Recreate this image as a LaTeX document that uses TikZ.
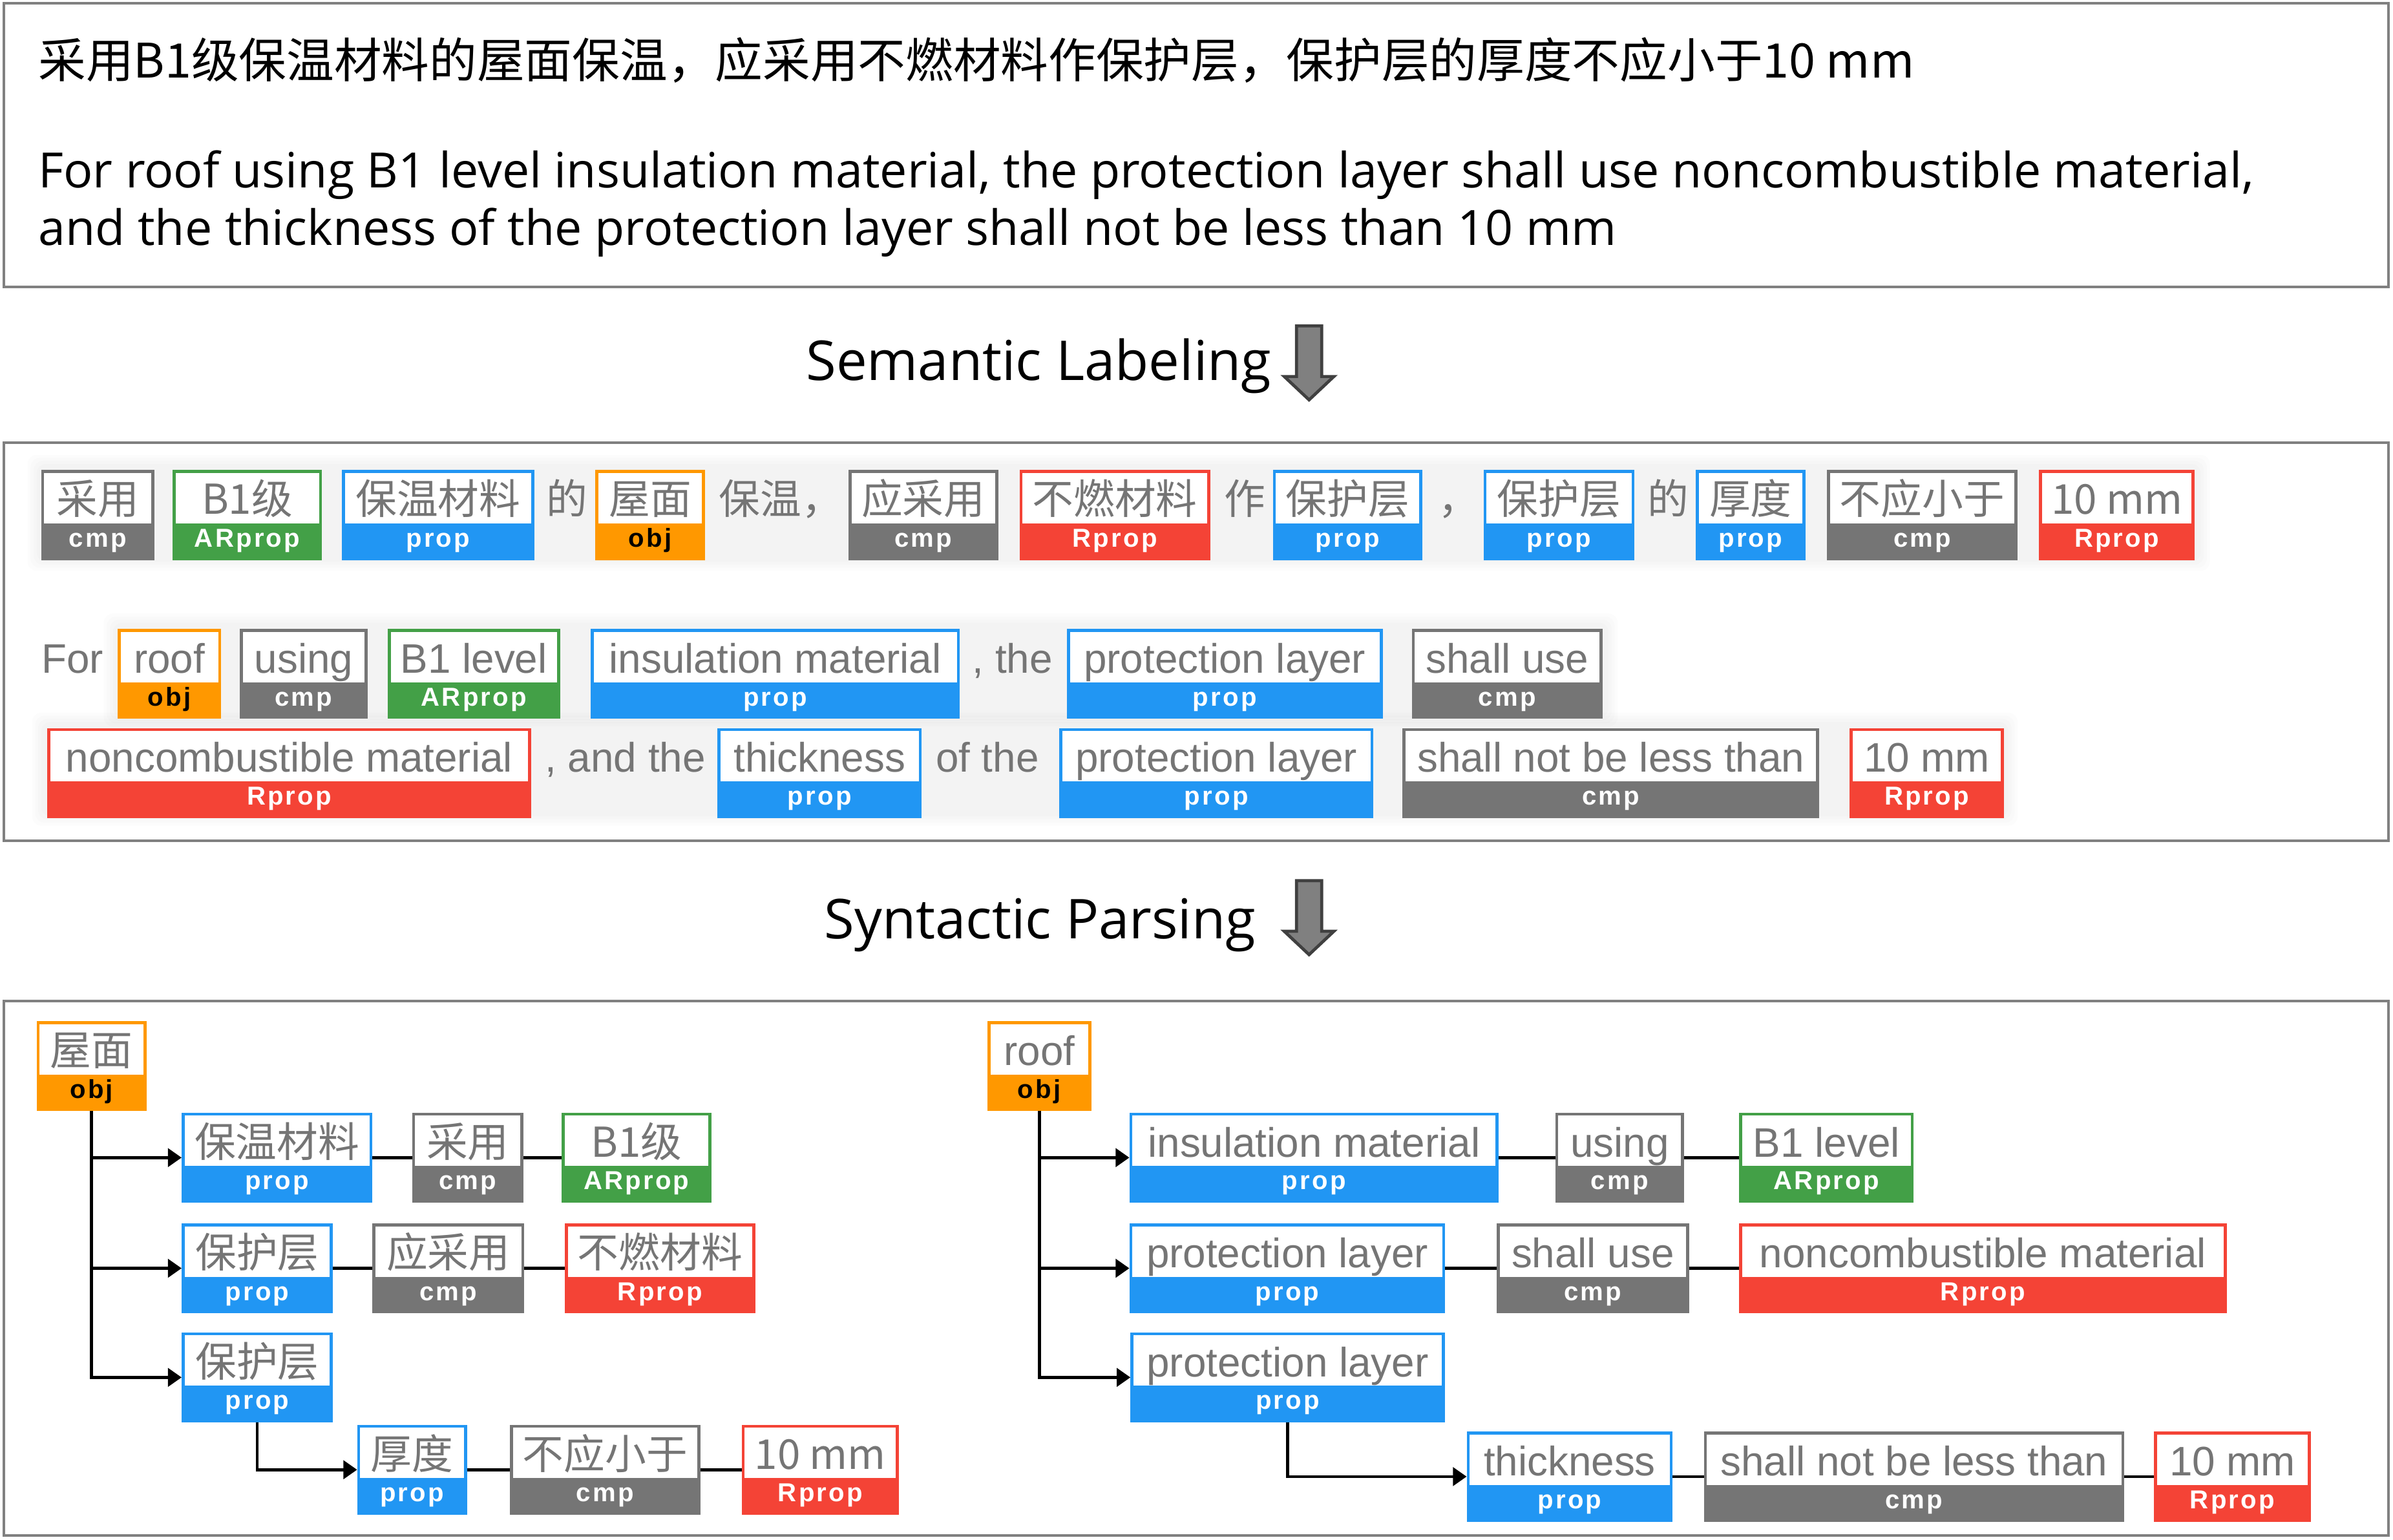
\documentclass[tikz,border=0pt]{standalone}
\usepackage{fontspec}
\setmainfont{Open Sans}
\newfontfamily\cjk{Noto Sans CJK SC}
\newfontfamily\tagsans{Liberation Sans}
\newfontfamily\labsans[LetterSpace=8]{Liberation Sans}
\usetikzlibrary{arrows.meta, shapes.multipart}

\definecolor{cmpgray}{HTML}{757575}
\definecolor{arpgreen}{HTML}{43A047}
\definecolor{propblue}{HTML}{2196F3}
\definecolor{objorange}{HTML}{FF9800}
\definecolor{rpred}{HTML}{F44336}
\definecolor{framegray}{HTML}{808080}
\definecolor{wordgray}{HTML}{757575}
\definecolor{arrowgray}{HTML}{808080}
\definecolor{arrowdark}{HTML}{404040}

% word on top, label below
\newcommand{\tg}[3][white]{\vrule height 27pt depth 6pt width 0pt{\color{wordgray}#2}\nodepart{two}\vrule height 13.5pt depth 6.5pt width 0pt{\labsans\bfseries\fontsize{17pt}{17pt}\selectfont\color{#1}#3}}

\begin{document}
\begin{tikzpicture}[x=1pt, y=-1pt,
    tag/.style={rectangle split, rectangle split parts=2, draw=#1, line width=2pt,
        rectangle split part fill={white,#1}, inner sep=0pt, anchor=north west,
        font=\tagsans\fontsize{27pt}{27pt}\selectfont},
    cmp/.style={tag=cmpgray}, arprop/.style={tag=arpgreen}, prop/.style={tag=propblue},
    obj/.style={tag=objorange}, rprop/.style={tag=rpred},
    word/.style={anchor=base west, inner sep=0pt, text=wordgray, font=\tagsans\fontsize{27pt}{27pt}\selectfont},
    frame/.style={draw=framegray, line width=1.6pt},
    branch/.style={line width=2pt, -{Triangle[length=9pt, width=12pt]}},
    link/.style={line width=2pt},
    glow/.style={fill=black, opacity=0.013, rounded corners=6pt},
    bigarrow/.style={fill=arrowgray, draw=arrowdark, line width=2pt}]

    \useasboundingbox (0,0) rectangle (1568,1009);

    % frames
    \draw[frame] (2.5,2) rectangle (1565,188);
    \draw[frame] (2.5,290) rectangle (1565,551);
    \draw[frame] (2.5,656) rectangle (1565,1006);

    % sentence
    \node[anchor=base west, inner sep=0pt, font=\cjk\fontsize{31.2pt}{31.2pt}\selectfont] (zhline) at (25,51) {采用B1级保温材料的屋面保温，应采用不燃材料作保护层，保护层的厚度不应小于10 mm};
    \node[anchor=base west, inner sep=0pt, font=\fontsize{31.9pt}{31.9pt}\selectfont] (enlineA) at (25,123) {For roof using B1 level insulation material, the protection layer shall use noncombustible material,};
    \node[anchor=base west, inner sep=0pt, font=\fontsize{31.9pt}{31.9pt}\selectfont] (enlineB) at (25,160.5) {and the thickness of the protection layer shall not be less than 10 mm};

    % Semantic Labeling
    \node[anchor=base west, inner sep=0pt, font=\fontsize{36pt}{36pt}\selectfont] (semtitle) at (528,249) {Semantic Labeling};
    \draw[bigarrow] (849.5,213.5) -- (866,213.5) -- (866,246.7) -- (874,246.7) -- (857.75,262) -- (841.5,246.7) -- (849.5,246.7) -- cycle;

    % soft shadow under the rows
    \foreach \d in {0,2,4,6} {
        \fill[glow] (24-\d,304-\d) rectangle (1442+\d,368+\d);
        \fill[glow] (74-\d,408-\d) rectangle (1054+\d,470+\d);
        \fill[glow] (27-\d,473-\d) rectangle (1316+\d,535+\d);
    }

    % labeled chinese
    \node[cmp, minimum width=72pt] (z1) at (27,308) {\tg{\cjk 采用}{cmp}};
    \node[arprop, minimum width=96pt] (z2) at (113,308) {\tg{\cjk B1级}{ARprop}};
    \node[prop, minimum width=124pt] (z3) at (224,308) {\tg{\cjk 保温材料}{prop}};
    \node[word] (zw1) at (358,337) {\cjk 的};
    \node[obj, minimum width=70pt] (z4) at (390,308) {\tg[black]{\cjk 屋面}{obj}};
    \node[word] (zw2) at (471,337) {\cjk 保温，};
    \node[cmp, minimum width=96pt] (z5) at (556,308) {\tg{\cjk 应采用}{cmp}};
    \node[rprop, minimum width=123pt] (z6) at (668,308) {\tg{\cjk 不燃材料}{Rprop}};
    \node[word] (zw3) at (802,337) {\cjk 作};
    \node[prop, minimum width=96pt] (z7) at (834,308) {\tg{\cjk 保护层}{prop}};
    \node[word] (zw4) at (942,337) {\cjk ，};
    \node[prop, minimum width=97pt] (z8) at (972,308) {\tg{\cjk 保护层}{prop}};
    \node[word] (zw5) at (1079.5,337) {\cjk 的};
    \node[prop, minimum width=70pt] (z9) at (1111,308) {\tg{\cjk 厚度}{prop}};
    \node[cmp, minimum width=123pt] (z10) at (1197,308) {\tg{\cjk 不应小于}{cmp}};
    \node[rprop, minimum width=100pt] (z11) at (1336,308) {\tg{\cjk 10 mm}{Rprop}};

    % labeled english
    \node[word] (ew1) at (27,441) {For};
    \node[obj, minimum width=66pt] (e1) at (77,412) {\tg[black]{roof}{obj}};
    \node[cmp, minimum width=82pt] (e2) at (157,412) {\tg{using}{cmp}};
    \node[arprop, minimum width=111pt] (e3) at (254,412) {\tg{B1 level}{ARprop}};
    \node[prop, minimum width=240pt] (e4) at (387,412) {\tg{insulation material}{prop}};
    \node[word] (ew2) at (637,441) {, the};
    \node[prop, minimum width=205pt] (e5) at (699,412) {\tg{protection layer}{prop}};
    \node[cmp, minimum width=123pt] (e6) at (925,412) {\tg{shall use}{cmp}};

    \node[rprop, minimum width=315pt] (f1) at (31,477) {\tg{noncombustible material}{Rprop}};
    \node[word] (fw1) at (357,506) {, and the};
    \node[prop, minimum width=132pt] (f2) at (470,477) {\tg{thickness}{prop}};
    \node[word] (fw2) at (613,506) {of the};
    \node[prop, minimum width=204pt] (f3) at (694,477) {\tg{protection layer}{prop}};
    \node[cmp, minimum width=271pt] (f4) at (919,477) {\tg{shall not be less than}{cmp}};
    \node[rprop, minimum width=99pt] (f5) at (1212,477) {\tg{10 mm}{Rprop}};

    % Syntactic Parsing
    \node[anchor=base west, inner sep=0pt, font=\fontsize{36pt}{36pt}\selectfont] (syntitle) at (540,615) {Syntactic Parsing};
    \begin{scope}[shift={(0,363.5)}]
    \draw[bigarrow] (849.5,213.5) -- (866,213.5) -- (866,246.7) -- (874,246.7) -- (857.75,262) -- (841.5,246.7) -- (849.5,246.7) -- cycle;
    \end{scope}

    % chinese tree
    \node[obj, minimum width=70pt] (l0) at (24,669) {\tg[black]{\cjk 屋面}{obj}};
    \node[prop, minimum width=123pt] (la1) at (119,729) {\tg{\cjk 保温材料}{prop}};
    \node[cmp, minimum width=71pt] (la2) at (270,729) {\tg{\cjk 采用}{cmp}};
    \node[arprop, minimum width=96pt] (la3) at (368,729) {\tg{\cjk B1级}{ARprop}};
    \node[prop, minimum width=97pt] (lb1) at (119,801.5) {\tg{\cjk 保护层}{prop}};
    \node[cmp, minimum width=97.5pt] (lb2) at (244,801.5) {\tg{\cjk 应采用}{cmp}};
    \node[rprop, minimum width=123pt] (lb3) at (370,801.5) {\tg{\cjk 不燃材料}{Rprop}};
    \node[prop, minimum width=97pt] (lc1) at (119,873) {\tg{\cjk 保护层}{prop}};
    \node[prop, minimum width=70pt] (ld1) at (234,933.5) {\tg{\cjk 厚度}{prop}};
    \node[cmp, minimum width=123pt] (ld2) at (334,933.5) {\tg{\cjk 不应小于}{cmp}};
    \node[rprop, minimum width=101pt] (ld3) at (486,933.5) {\tg{\cjk 10 mm}{Rprop}};

    \draw[branch] (l0.south) |- (la1.west);
    \draw[branch] (l0.south) |- (lb1.west);
    \draw[branch] (l0.south) |- (lc1.west);
    \draw[branch] (lc1.south) |- (ld1.west);
    \draw[link] (la1.east) -- (la2.west);
    \draw[link] (la2.east) -- (la3.west);
    \draw[link] (lb1.east) -- (lb2.west);
    \draw[link] (lb2.east) -- (lb3.west);
    \draw[link] (ld1.east) -- (ld2.west);
    \draw[link] (ld2.east) -- (ld3.west);

    % english tree
    \node[obj, minimum width=66pt] (r0) at (647,669) {\tg[black]{roof}{obj}};
    \node[prop, minimum width=240pt] (ra1) at (740,729) {\tg{insulation material}{prop}};
    \node[cmp, minimum width=82.5pt] (ra2) at (1019,729) {\tg{using}{cmp}};
    \node[arprop, minimum width=112.5pt] (ra3) at (1139.5,729) {\tg{B1 level}{ARprop}};
    \node[prop, minimum width=205pt] (rb1) at (740,801.5) {\tg{protection layer}{prop}};
    \node[cmp, minimum width=124pt] (rb2) at (980.7,801.5) {\tg{shall use}{cmp}};
    \node[rprop, minimum width=317.5pt] (rb3) at (1139.5,801.5) {\tg{noncombustible material}{Rprop}};
    \node[prop, minimum width=204pt] (rc1) at (740.7,873) {\tg{protection layer}{prop}};
    \node[prop, minimum width=133pt] (rd1) at (961,938) {\tg{thickness}{prop}};
    \node[cmp, minimum width=273.6pt] (rd2) at (1116.4,938) {\tg{shall not be less than}{cmp}};
    \node[rprop, minimum width=100.5pt] (rd3) at (1411.5,938) {\tg{10 mm}{Rprop}};

    \draw[branch] (r0.south) |- (ra1.west);
    \draw[branch] (r0.south) |- (rb1.west);
    \draw[branch] (r0.south) |- (rc1.west);
    \draw[branch] (rc1.south) |- (rd1.west);
    \draw[link] (ra1.east) -- (ra2.west);
    \draw[link] (ra2.east) -- (ra3.west);
    \draw[link] (rb1.east) -- (rb2.west);
    \draw[link] (rb2.east) -- (rb3.west);
    \draw[link] (rd1.east) -- (rd2.west);
    \draw[link] (rd2.east) -- (rd3.west);

\end{tikzpicture}
\end{document}
